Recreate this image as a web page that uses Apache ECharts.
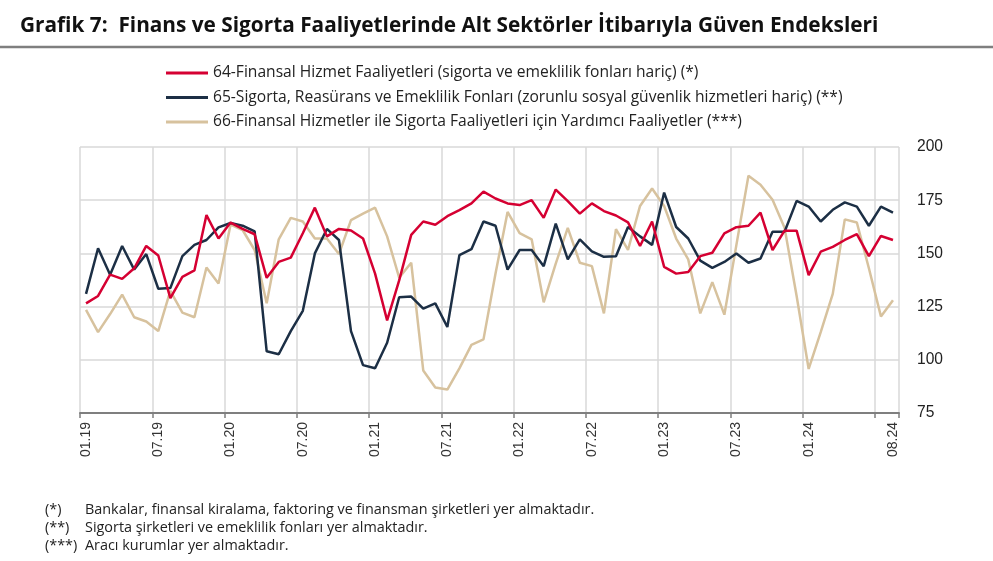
<!DOCTYPE html>
<html>
<head>
<meta charset="utf-8">
<script src="https://cdn.jsdelivr.net/npm/echarts@6/dist/echarts.min.js"></script>
<style>
html,body{margin:0;padding:0;background:#fff;}
#chart{width:993px;height:561px;}
</style>
</head>
<body>
<div id="chart"></div>
<script>
var categories = [
"01.19","02.19","03.19","04.19","05.19","06.19","07.19","08.19","09.19","10.19","11.19","12.19",
"01.20","02.20","03.20","04.20","05.20","06.20","07.20","08.20","09.20","10.20","11.20","12.20",
"01.21","02.21","03.21","04.21","05.21","06.21","07.21","08.21","09.21","10.21","11.21","12.21",
"01.22","02.22","03.22","04.22","05.22","06.22","07.22","08.22","09.22","10.22","11.22","12.22",
"01.23","02.23","03.23","04.23","05.23","06.23","07.23","08.23","09.23","10.23","11.23","12.23",
"01.24","02.24","03.24","04.24","05.24","06.24","07.24","08.24"];

var s64 = [126.5,130,140,138,143,153.5,149,129,139,142,168,157,
164.5,161.5,159,138.5,146,148,159.5,171.5,158,161.5,160.8,157,
140.5,118.5,137.3,158.7,165,163.5,167.5,170.3,173.5,179,175.8,173.5,
172.7,175,166.7,180,174.6,168.7,173.5,169.9,167.8,164.6,153.5,165,
143.7,140.5,141.3,148.7,150.3,159.4,162.3,163,169.2,151.6,160.7,160.7,
139.8,150.8,153.1,156.3,159.1,148.7,158.2,156.3];

var s65 = [131,152.4,140,153.5,142.4,149.7,133.4,133.7,148.7,154,156.3,162.2,
164.3,163,160.3,104,102.6,113.5,123,150,161.5,156.3,113.5,97.5,
96,108,129.4,129.7,124,126.5,115.4,149.2,152,165,163,142.4,
151.6,151.6,144,164,147.2,156.6,151,148.4,148.7,162.4,158,154,
178.6,162.4,157,146.6,143.2,146,150,145.6,147.6,160.2,160.2,174.7,
172,165,170.5,174,172,163,172,169.2];

var s66 = [123.5,113,121.5,130.6,120,118,113.5,132.4,122.2,120,143.4,135.8,
163.5,161,151.6,126.6,156.6,166.7,165,157,157,149.7,165.6,168.7,
171.5,158,138.6,145.6,95,87,86,96,107,109.6,140.6,169.5,
159.5,156.6,127,145.2,162,145.6,144,121.8,161.4,151.6,172.3,180.5,
172.3,157,147.2,121.8,136.5,121.2,154,186.5,182.3,175.2,162,130,
95.7,113,131,166,164.5,143,120.4,128];

var seriesNames = [
"64-Finansal Hizmet Faaliyetleri (sigorta ve emeklilik fonları hariç) (*)",
"65-Sigorta, Reasürans ve Emeklilik Fonları (zorunlu sosyal güvenlik hizmetleri hariç) (**)",
"66-Finansal Hizmetler ile Sigorta Faaliyetleri için Yardımcı Faaliyetler (***)"];
var colors = ["#d50032","#1c2f45","#d7c29e"];
var yTicks = {min:75, max:200, step:25};
var titleText = "Grafik 7:  Finans ve Sigorta Faaliyetlerinde Alt Sektörler İtibarıyla Güven Endeksleri";
var notes = [["(*)","Bankalar, finansal kiralama, faktoring ve finansman şirketleri yer almaktadır."],
             ["(**)","Sigorta şirketleri ve emeklilik fonları yer almaktadır."],
             ["(***)","Aracı kurumlar yer almaktadır."]];

var chart = echarts.init(document.getElementById('chart'), null, {renderer:'canvas'});
var lastIdx = categories.length - 1;
var noteGraphics = [];
notes.forEach(function(n, k){
  noteGraphics.push({type:'text', left:45, top:503 + k*18, style:{text:n[0], font:'14.4px "Open Sans"', fill:'#222'}});
  noteGraphics.push({type:'text', left:85, top:503 + k*18, style:{text:n[1], font:'14.4px "Open Sans"', fill:'#222'}});
});
var option = {
  animation:false,
  backgroundColor:'#fff',
  title:{text:titleText, left:20, top:16, padding:0, textStyle:{fontFamily:'"Open Sans"', fontWeight:'bold', fontSize:20.8, color:'#111'}},
  graphic:[{type:'line', shape:{x1:0,y1:47,x2:993,y2:47}, style:{stroke:'#7f7f7f', lineWidth:2.5}}].concat(noteGraphics),
  legend:{
    orient:'vertical', left:166, top:64, padding:0, itemWidth:42, itemHeight:3, itemGap:6.5, icon:'rect',
    data:seriesNames,
    textStyle:{fontFamily:'"Open Sans"', fontSize:15.6, color:'#222', lineHeight:18}
  },
  grid:{left:80, right:94, top:147, bottom:148},
  xAxis:{
    type:'category', data:categories, boundaryGap:true,
    axisLine:{lineStyle:{color:'#7f7f7f', width:2}},
    axisTick:{show:true, length:5, interval:function(i){return i%6===0;}, lineStyle:{color:'#7f7f7f', width:1.5}},
    axisLabel:{interval:function(i){return (i%6===0 && i<lastIdx-6) || i===lastIdx;}, rotate:90, margin:9, fontFamily:'"Liberation Sans"', fontSize:14, color:'#333'},
    splitLine:{show:true, interval:function(i){return i%6===0;}, lineStyle:{color:'#d9d9d9', width:1.5}}
  },
  yAxis:{
    type:'value', position:'right', min:yTicks.min, max:yTicks.max, interval:yTicks.step,
    axisLine:{show:false}, axisTick:{show:false},
    axisLabel:{margin:18, fontFamily:'"Liberation Sans"', fontSize:15.6, color:'#222'},
    splitLine:{lineStyle:{color:'#d9d9d9', width:1.5}}
  },
  series:[
    {name:seriesNames[0], type:'line', data:s64, symbol:'none', z:4, lineStyle:{width:2.5, color:colors[0]}, itemStyle:{color:colors[0]}},
    {name:seriesNames[1], type:'line', data:s65, symbol:'none', z:3, lineStyle:{width:2.5, color:colors[1]}, itemStyle:{color:colors[1]}},
    {name:seriesNames[2], type:'line', data:s66, symbol:'none', z:2, lineStyle:{width:2.5, color:colors[2]}, itemStyle:{color:colors[2]}}
  ]
};
chart.setOption(option);
</script>
</body>
</html>
